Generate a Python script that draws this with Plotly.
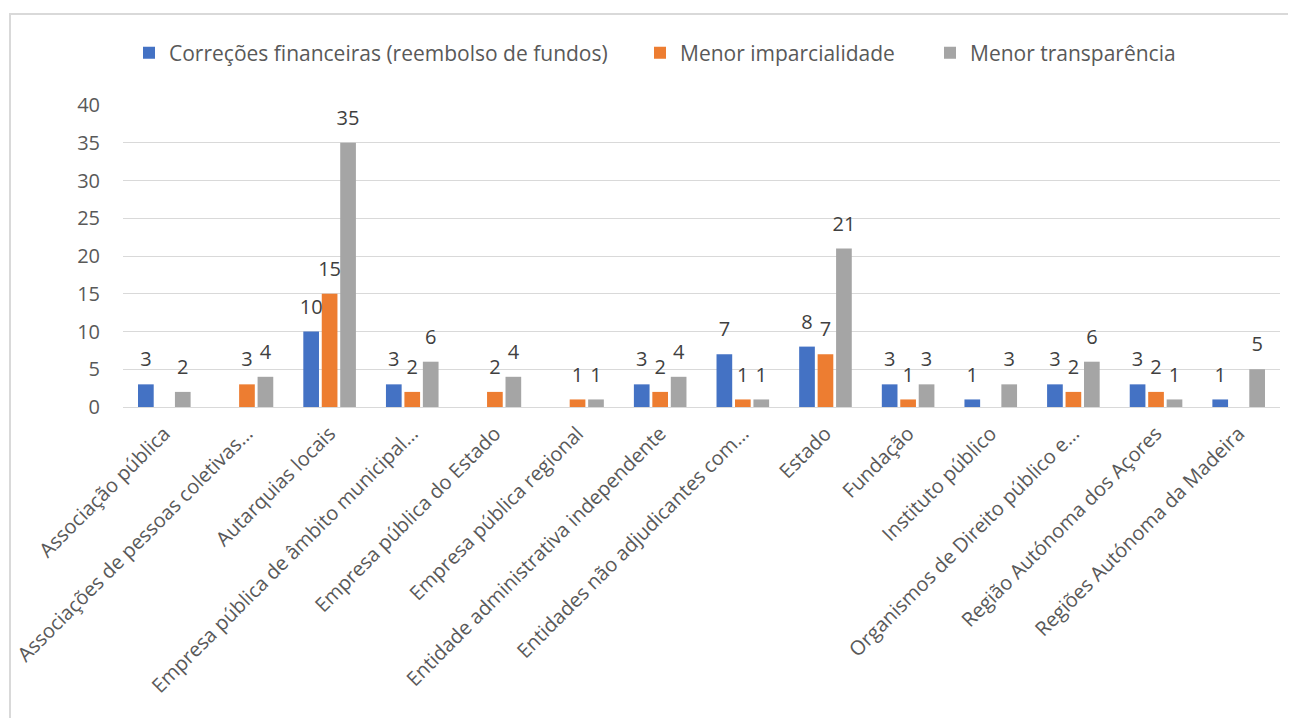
import plotly.graph_objects as go

categories = [
    "Associação pública",
    "Associações de pessoas coletivas…",
    "Autarquias locais",
    "Empresa pública de âmbito municipal…",
    "Empresa pública do Estado",
    "Empresa pública regional",
    "Entidade administrativa independente",
    "Entidades não adjudicantes com…",
    "Estado",
    "Fundação",
    "Instituto público",
    "Organismos de Direito público e…",
    "Região Autónoma dos Açores",
    "Regiões Autónoma da Madeira",
]
correcoes = [3, None, 10, 3, None, None, 3, 7, 8, 3, 1, 3, 3, 1]
imparcialidade = [None, 3, 15, 2, 2, 1, 2, 1, 7, 1, None, 2, 2, None]
transparencia = [2, 4, 35, 6, 4, 1, 4, 1, 21, 3, 3, 6, 1, 5]

series = [
    ("Correções financeiras (reembolso de fundos)", correcoes, "#4472C4"),
    ("Menor imparcialidade", imparcialidade, "#ED7D31"),
    ("Menor transparência", transparencia, "#A5A5A5"),
]

FONT = "Open Sans"
BARGAP = 0.33
legend_names = ["legend", "legend2", "legend3"]
fig = go.Figure()
for i, (name, vals, color) in enumerate(series):
    fig.add_trace(go.Bar(
        name=name, x=categories, y=vals, offsetgroup=str(i),
        legend=legend_names[i],
        marker=dict(color=color, line=dict(width=0)),
    ))
for i, (name, vals, color) in enumerate(series):
    fig.add_trace(go.Scatter(
        name=name, x=categories, y=vals, offsetgroup=str(i),
        mode="markers+text", showlegend=False, hoverinfo="skip",
        marker=dict(size=19, color="rgba(0,0,0,0)"),
        text=["" if v is None else str(v) for v in vals],
        textposition="top center", cliponaxis=False,
        textfont=dict(family=FONT, size=20, color="#404040"),
    ))

W, H = 1288, 710
OFF = 8
L, R, T, B = 115, 16, 97, 311
pw, ph = W - L - R, H - T - B

def px(x):
    return (x - OFF - L) / pw

def py(y):
    return (H - B - (y - OFF)) / ph

legend_x = [129, 640, 930]
legend_common = dict(orientation="h", yanchor="middle", xanchor="left", y=py(53),
                     font=dict(family=FONT, size=21, color="#595959"),
                     itemwidth=30, bgcolor="rgba(0,0,0,0)")

fig.update_layout(
    width=W, height=H,
    margin=dict(l=L, r=R, t=T, b=B, autoexpand=False),
    paper_bgcolor="white", plot_bgcolor="white",
    barmode="group", bargap=BARGAP, bargroupgap=0.15,
    scattermode="group", scattergap=BARGAP,
    font=dict(family=FONT, color="#595959"),
    showlegend=True,
    legend=dict(x=px(legend_x[0]), **legend_common),
    legend2=dict(x=px(legend_x[1]), **legend_common),
    legend3=dict(x=px(legend_x[2]), **legend_common),
    xaxis=dict(tickangle=-45, tickfont=dict(family=FONT, size=20, color="#595959"),
               showline=True, linecolor="#d9d9d9", linewidth=1, ticks="",
               showgrid=False, ticklabelstandoff=6, automargin=False),
    yaxis=dict(range=[0, 40], dtick=5, showgrid=True, gridcolor="#d9d9d9", gridwidth=1,
               zeroline=False, showline=False, automargin=False,
               tickfont=dict(family=FONT, size=20, color="#595959"),
               ticklabelstandoff=22),
    shapes=[dict(type="rect", xref="paper", yref="paper",
                 x0=px(10), x1=px(1296 + 20), y0=py(718 + 20), y1=py(14),
                 line=dict(color="#d9d9d9", width=2), layer="below")],
)

fig.write_html("out.html")
